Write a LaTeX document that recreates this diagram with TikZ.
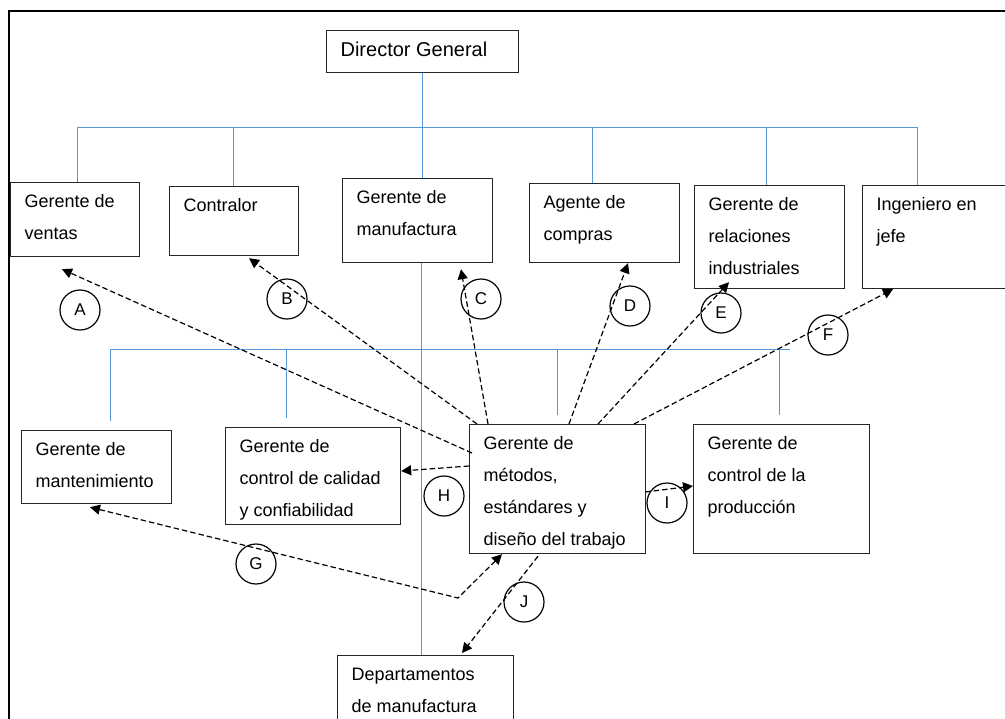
\documentclass[tikz,border=0pt]{standalone}
\usepackage{fontspec}
\setmainfont{Liberation Sans}
\usetikzlibrary{arrows.meta}
\definecolor{orgblue}{RGB}{85,152,215}

\newcommand{\boxtxt}[4][9]{\parbox[c][#3][t]{#2}{\fontsize{#1}{15.9}\selectfont\raggedright\leftskip=7pt\rule{0pt}{12.5pt}#4}}

\begin{document}
\begin{tikzpicture}[x=0.5pt,y=-0.5pt,
  box/.style={draw=black!85,line width=0.6pt,inner sep=0pt,anchor=north west},
  org/.style={draw=orgblue,line width=0.5pt},
  lbl/.style={circle,draw,line width=0.6pt,minimum size=20pt,inner sep=0pt,font=\fontsize{8.5}{10}\selectfont},
  rel/.style={->,line width=0.6pt,dash pattern=on 2.75pt off 1.5pt},
  >={Triangle[length=5pt,width=5pt]}]
\useasboundingbox (0,0) rectangle (1005,718);
\clip (0,0) rectangle (1005,718);
%frame
\draw[line width=1pt] (9,730) -- (9,11) -- (1030,11);

%top row
\node[box] (dg) at (326,30) {\boxtxt[10]{96pt}{21pt}{\rule{0pt}{13pt}Director General}};
\node[box] (ventas) at (10,182) {\boxtxt{64.5pt}{37pt}{Gerente de\\ventas}};
\node[box] (contralor) at (169,186) {\boxtxt{64.5pt}{34.5pt}{Contralor}};
\node[box] (manuf) at (342,178) {\boxtxt{75pt}{42pt}{Gerente de\\manufactura}};
\node[box] (compras) at (529,183) {\boxtxt{75pt}{39.5pt}{Agente de\\compras}};
\node[box] (relaciones) at (694,185) {\boxtxt{75pt}{51.5pt}{Gerente de\\relaciones\\industriales}};
\node[box] (ingeniero) at (862,185) {\boxtxt{200pt}{51.5pt}{Ingeniero en\\jefe}};

%second row
\node[box] (mant) at (21,430) {\boxtxt{75pt}{36.5pt}{Gerente de\\mantenimiento}};
\node[box] (calidad) at (225,427) {\boxtxt{87.5pt}{48.5pt}{Gerente de\\control de calidad\\y confiabilidad}};
\node[box] (metodos) at (469,424) {\boxtxt{88pt}{64.5pt}{Gerente de\\métodos,\\estándares y\\diseño del trabajo}};
\node[box] (produccion) at (693,424) {\boxtxt{88pt}{64.5pt}{Gerente de\\control de la\\producción}};
\node[box] (dept) at (337,655) {\boxtxt{88pt}{50pt}{Departamentos\\de manufactura}};

%org lines
\coordinate (busL) at (77,127);
\coordinate (busR) at (918,127);
\draw[org] (busL) -- (busR);
\draw[org] (dg.south) -- (dg.south |- manuf.north);
\foreach \n/\x in {ventas/77,contralor/233,compras/592,relaciones/766}
  \draw[org] (\x,127) -- (\x,0 |- \n.north);
\draw[org] (917,127) -- (917,0 |- ingeniero.north);
\draw[org] (421,0 |- manuf.south) -- (421,0 |- dept.north);
\draw[org] (110,349) -- (790,349);
\foreach \n/\x in {mant/110,calidad/286,metodos/557,produccion/779}
  \draw[org] (\x,349) -- ([yshift=4.5pt]\x,0 |- \n.north);

%labels
\foreach \l/\x/\y in {A/80/310,B/287/299,C/481/299,D/630/306,E/721/313,F/828/335,G/256/564,H/444/496,I/667/503,J/524/602}
  \node[lbl] (c\l) at (\x,\y) {\l};

%relations
\draw[rel] ([shift={(3,29)}]metodos.north west) -- ([shift={(52,12)}]ventas.south west);
\draw[rel] ([shift={(8,0)}]metodos.north west) -- ([shift={(80,2)}]contralor.south west);
\draw[rel] ([shift={(19,0)}]metodos.north west) -- ([shift={(119,6)}]manuf.south west);
\draw[rel] ([shift={(100,0)}]metodos.north west) -- ([shift={(99,0)}]compras.south west);
\draw[rel] ([shift={(129,0)}]metodos.north west) -- ([shift={(35,-7)}]relaciones.south west);
\draw[rel] ([shift={(165,0)}]metodos.north west) -- ([shift={(31,0)}]ingeniero.south west);
\draw[rel] ([shift={(0,42)}]metodos.north west) -- ([shift={(0,44)}]calidad.north east);
\draw[rel] ([shift={(-1,68)}]metodos.north east) -- ([shift={(0,62)}]produccion.north west);
\coordinate (gbend) at (458,598);
\draw[rel,<->] ([shift={(69,3)}]mant.south west) -- (gbend) -- ([shift={(33,0)}]metodos.south west);
\draw[rel] ([shift={(69,2)}]metodos.south west) -- ([shift={(125,-2)}]dept.north west);
\end{tikzpicture}
\end{document}
